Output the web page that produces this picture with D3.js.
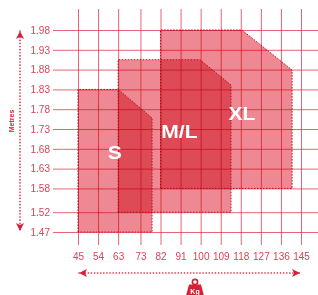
<!DOCTYPE html>
<html>
<head>
<meta charset="utf-8">
<script src="https://cdn.jsdelivr.net/npm/d3@7"></script>
<style>
  body { margin: 0; background: #fff; }
  svg { display: block; font-family: "Liberation Sans", Arial, sans-serif; }
  .zone { mix-blend-mode: multiply; }
</style>
</head>
<body>
<div id="chart"></div>
<script>
    // tick labels
    var kgTicks = [45, 54, 63, 73, 82, 91, 100, 109, 118, 127, 136, 145];
    var mTicks = [1.47, 1.52, 1.58, 1.63, 1.68, 1.73, 1.78, 1.83, 1.88, 1.93, 1.98];

    // size zones, outline as [kg, metres]
    var sizeNames = ["S", "M/L", "XL"];
    var sizeShapes = [
        [[45, 1.47], [45, 1.83], [63, 1.83], [78.2, 1.758], [78.2, 1.47]],
        [[63, 1.52], [63, 1.905], [99.7, 1.905], [113.6, 1.841], [113.6, 1.52]],
        [[82, 1.58], [82, 1.98], [118.5, 1.98], [141, 1.879], [141, 1.58]]
    ];
    // where the size name sits [kg, metres]
    var sizeLabelAt = [[61.5, 1.655], [90.5, 1.707], [118.5, 1.753]];

    var width = 318, height = 295;
    var red = "#e0283c";

    var svg = d3.select("#chart").append("svg")
        .attr("width", width)
        .attr("height", height);

    var x = d3.scaleLinear().domain([45, 145]).range([78, 301]);
    var y = d3.scaleLinear().domain([1.47, 1.98]).range([232, 30]);

    // grid
    var xAxis = d3.axisBottom(x)
        .tickValues(kgTicks)
        .tickSize(-(245 - 9))
        .tickPadding(8)
        .tickFormat(d3.format("d"));

    var yAxis = d3.axisLeft(y)
        .tickValues(mTicks)
        .tickSize(-(318 - 53))
        .tickPadding(3)
        .tickFormat(d3.format(".2f"));

    svg.append("g")
        .attr("class", "x axis")
        .attr("transform", "translate(0,245)")
        .call(xAxis);

    svg.append("g")
        .attr("class", "y axis")
        .attr("transform", "translate(53,0)")
        .call(yAxis);

    svg.selectAll(".axis .domain").remove();
    svg.selectAll(".axis line")
        .attr("stroke", red)
        .attr("stroke-opacity", 0.8)
        .attr("stroke-width", 0.9);
    svg.selectAll(".axis text")
        .attr("fill", "#de4254")
        .attr("font-size", 10)
        .attr("font-family", "'Liberation Sans', Arial, sans-serif");

    // zones
    var line = d3.line()
        .x(function(d) { return x(d[0]); })
        .y(function(d) { return y(d[1]); });

    svg.selectAll(".zone")
        .data(sizeShapes)
        .enter()
        .append("path")
        .attr("class", "zone")
        .attr("d", function(d) { return line(d) + "Z"; })
        .attr("fill", "#ee8994")
        .attr("stroke", "#c8142e")
        .attr("stroke-width", 1)
        .attr("stroke-dasharray", "1.6,1.4");

    svg.selectAll(".size-name")
        .data(sizeNames)
        .enter()
        .append("text")
        .attr("class", "size-name")
        .attr("transform", function(d, i) {
            return "translate(" + x(sizeLabelAt[i][0]) + "," + y(sizeLabelAt[i][1]) + ") scale(1.17,1)";
        })
        .attr("text-anchor", "middle")
        .attr("fill", "#fff")
        .attr("font-weight", "bold")
        .attr("font-size", 18)
        .text(function(d) { return d; });

    // dotted arrows
    var defs = svg.append("defs");
    defs.append("marker")
        .attr("id", "head")
        .attr("viewBox", "0 0 10 10")
        .attr("refX", 10).attr("refY", 5)
        .attr("markerWidth", 11).attr("markerHeight", 8)
        .attr("markerUnits", "userSpaceOnUse")
        .attr("orient", "auto-start-reverse")
        .append("path")
        .attr("d", "M0,0L10,5L0,10L2.5,5Z")
        .attr("fill", "#d71f35");

    svg.append("line")
        .attr("x1", 20).attr("x2", 20)
        .attr("y1", 31).attr("y2", 231)
        .attr("stroke", "#d71f35")
        .attr("stroke-width", 1.6)
        .attr("stroke-linecap", "round")
        .attr("stroke-dasharray", "0.1,3")
        .attr("marker-start", "url(#head)")
        .attr("marker-end", "url(#head)");

    svg.append("line")
        .attr("x1", 79).attr("x2", 300)
        .attr("y1", 273).attr("y2", 273)
        .attr("stroke", "#d71f35")
        .attr("stroke-width", 1.6)
        .attr("stroke-linecap", "round")
        .attr("stroke-dasharray", "0.1,3")
        .attr("marker-start", "url(#head)")
        .attr("marker-end", "url(#head)");

    svg.append("text")
        .attr("transform", "translate(14,121) rotate(-90)")
        .attr("text-anchor", "middle")
        .attr("fill", "#d71f35")
        .attr("font-weight", "bold")
        .attr("font-size", 7)
        .text("Metres");

    // kg weight icon
    var kg = svg.append("g").attr("transform", "translate(195,0)");
    kg.append("circle")
        .attr("cx", 0).attr("cy", 282)
        .attr("r", 2.6)
        .attr("fill", "none")
        .attr("stroke", "#d71f35")
        .attr("stroke-width", 1.6);
    kg.append("path")
        .attr("d", "M-6,284.5L6,284.5L9,296L-9,296Z")
        .attr("fill", "#d71f35");
    kg.append("text")
        .attr("x", 0).attr("y", 293.5)
        .attr("text-anchor", "middle")
        .attr("fill", "#fff")
        .attr("font-weight", "bold")
        .attr("font-size", 7)
        .text("Kg");
</script>
</body>
</html>
